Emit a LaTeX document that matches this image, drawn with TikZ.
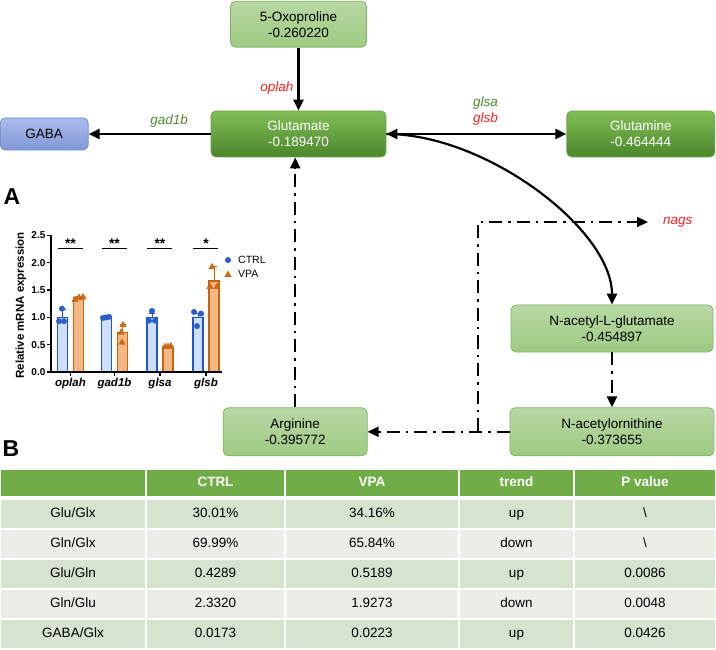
\documentclass[tikz,border=0pt]{standalone}
\usepackage{fontspec}
\setmainfont{Liberation Sans}
\usetikzlibrary{arrows.meta,positioning}

\definecolor{lgtop}{HTML}{B8D8A4}
\definecolor{lgbot}{HTML}{9ECB82}
\definecolor{lgedge}{HTML}{82B366}
\definecolor{dgtop}{HTML}{82BE56}
\definecolor{dgbot}{HTML}{4B872B}
\definecolor{dgedge}{HTML}{6FA24A}
\definecolor{bluetop}{HTML}{AABCEB}
\definecolor{bluebot}{HTML}{8298D8}
\definecolor{blueedge}{HTML}{6C8EBF}
\definecolor{genegreen}{HTML}{4F8A2E}
\definecolor{genered}{HTML}{FF2020}
\definecolor{headgreen}{HTML}{70AD47}
\definecolor{rowdark}{HTML}{D5E3CF}
\definecolor{rowlight}{HTML}{E9EFE6}
\definecolor{ctrledge}{HTML}{1F56D6}
\definecolor{ctrlfill}{HTML}{CDE0F7}
\definecolor{ctrldot}{HTML}{2B5EC9}
\definecolor{vpaedge}{HTML}{C9620B}
\definecolor{vpafill}{HTML}{F3B886}
\definecolor{vpadot}{HTML}{CD6A17}

\tikzset{tri/.pic={\fill (0,3.8pt) -- (-3.6pt,-2.6pt) -- (3.6pt,-2.6pt) -- cycle;}}

\begin{document}
\begin{tikzpicture}[
    x=1pt, y=-1pt,
    lightbox/.style  = {rectangle, rounded corners=5pt, draw=lgedge, line width=0.8pt,
                        top color=lgtop, bottom color=lgbot, inner sep=0pt,
                        font=\fontsize{13.5}{16}\selectfont, align=center},
    darkbox/.style   = {lightbox, draw=dgedge, top color=dgtop, bottom color=dgbot, text=white},
    bluebox/.style   = {lightbox, draw=blueedge, top color=bluetop, bottom color=bluebot},
    arrow/.style     = {-{Triangle[length=11pt,width=10pt]}, line width=2.2pt},
    dblarrow/.style  = {{Triangle[length=11pt,width=10pt]}-{Triangle[length=11pt,width=10pt]}, line width=2.2pt},
    dasharrow/.style = {arrow, dash pattern=on 13pt off 6pt on 2.5pt off 6pt},
    gene/.style      = {font=\fontsize{13.5}{16}\selectfont\itshape, inner sep=1pt},
    panel/.style     = {font=\bfseries\fontsize{23}{23}\selectfont, inner sep=0pt},
    tick/.style      = {font=\bfseries\fontsize{10}{10}\selectfont, inner sep=1pt},
    cell/.style      = {font=\fontsize{13.5}{16}\selectfont, text height=9.7pt, text depth=2.8pt},
    headcell/.style  = {cell, font=\bfseries\fontsize{13.5}{16}\selectfont, text=white}
]
\useasboundingbox (0,0) rectangle (716,650);

% Pathway
\node[darkbox, minimum width=175pt, minimum height=46pt] (glu) at (298.5,134) {Glutamate\\-0.189470};
\node[lightbox, minimum width=136pt, minimum height=46pt, above=63pt of glu] (oxo) {5-Oxoproline\\-0.260220};
\node[bluebox, minimum width=88pt, minimum height=32pt, left=122pt of glu] (gaba) {GABA};
\node[darkbox, minimum width=148pt, minimum height=46pt, right=180pt of glu] (gln) {Glutamine\\-0.464444};
\node[lightbox, minimum width=202pt, minimum height=47pt] (nag) at (612,328.5) {N-acetyl-L-glutamate\\-0.454897};
\node[lightbox, minimum width=204pt, minimum height=48pt, below=55pt of nag] (nao) {N-acetylornithine\\-0.373655};
\node[lightbox, minimum width=144pt, minimum height=48pt, left=142pt of nao] (arg) {Arginine\\-0.395772};
\node[gene, text=genered, anchor=west] (nags) at (662,222) {nags};
\coordinate (split) at (478,431);

\draw[arrow] (oxo) -- node[gene, text=genered, left=3pt, pos=0.64] (lbl-oplah) {oplah} (glu);
\draw[arrow] (glu) -- node[gene, text=genegreen, above=5pt, pos=0.34] (lbl-gad) {gad1b} (gaba);
\draw[dblarrow] (glu) -- node[gene, above=7pt, pos=0.55, align=center] (lbl-gls)
    {\textcolor{genegreen}{glsa}\\\textcolor{genered}{glsb}} (gln);
\draw[arrow] (glu.east) .. controls +(100,0) and +(0,-75) .. (nag.north);
\draw[dasharrow] (arg.north) -- (arg.north |- glu.south);
\draw[dasharrow] (nag) -- (nao);
\draw[dasharrow] (nao) -- (arg);
\draw[dasharrow, shorten >=14pt] (split) |- (nags.west);

% Panel A: qPCR bars
\node[panel] (pA) at (12,197) {A};
\begin{scope}[shift={(0,372)}, y=54.6pt]
  \foreach \gc/\gname/\vm/\ce/\ve/\stars in {70.5/oplah/1.35/1.14/1.39/{**},
      114.5/gad1b/0.72/1.01/0.87/{**}, 160/glsa/0.47/1.08/0.48/{**}, 206/glsb/1.67/1.08/1.93/{*}}{
    \draw[ctrledge, line width=0.7pt] (\gc-8,1) -- (\gc-8,\ce) (\gc-11,\ce) -- (\gc-5,\ce);
    \draw[vpaedge, line width=0.7pt] (\gc+8,\vm) -- (\gc+8,\ve) (\gc+5,\ve) -- (\gc+11,\ve);
    \draw[ctrledge, fill=ctrlfill, line width=1.6pt] (\gc-13,0) rectangle (\gc-3,1);
    \draw[vpaedge, fill=vpafill, line width=1.6pt] (\gc+3,0) rectangle (\gc+13,\vm);
    \draw[line width=1.5pt] (\gc,0) -- ++(0,-4pt);
    \node[font=\bfseries\itshape\fontsize{11.5}{12}\selectfont] (lab-\gname) at (\gc,-0.22) {\gname};
    \draw[line width=1.5pt] (\gc-13,2.26) -- (\gc+12,2.26);
    \node[font=\bfseries\fontsize{14}{14}\selectfont] (st-\gname) at (\gc,2.35) {\stars};
  }
  % CTRL points
  \foreach \x/\v in {62/1.16, 59/0.93, 64/0.93, 103/0.99, 106/1.0, 109/1.01,
      152/1.12, 149/0.94, 155/0.94, 194/1.1, 201/1.07, 197/0.84}
    \fill[ctrldot] (\x,\v) circle (3pt);
  % VPA points
  \foreach \x/\v in {75/1.33, 79/1.37, 83/1.38, 123/0.87, 121/0.73, 122/0.55,
      165/0.47, 168/0.47, 171/0.48, 212/1.93, 210/1.57, 217/1.57}
    \pic[vpadot] at (\x,\v) {tri};
  % axes
  \draw[line width=1.5pt] (51,2.5) -- (51,0) -- (222,0);
  \foreach \v in {0.0,0.5,1.0,1.5,2.0,2.5}
    \draw[line width=1.2pt] (51,\v) -- (47,\v) node[tick, left] (yt-\v) {\v};
  \node[rotate=90, font=\bfseries\fontsize{11.5}{12}\selectfont] (ylab) at (21,1.22) {Relative mRNA expression};
  % legend
  \fill[ctrldot] (228,2.05) circle (3pt);
  \pic[vpadot] at (228,1.79) {tri};
  \node[anchor=west, font=\fontsize{10.5}{12}\selectfont, inner sep=0pt] (legC) at (238,2.05) {CTRL};
  \node[anchor=west, font=\fontsize{10.5}{12}\selectfont, inner sep=0pt] (legV) at (238,1.79) {VPA};
\end{scope}

% Panel B: ratio table
\node[panel] (pB) at (11,449) {B};
\foreach \l/\r/\t [count=\j] in {1/145/{}, 147/284/CTRL, 286/458/VPA, 460/573/trend, 575/715/P value}{
  \fill[headgreen] (\l,470) rectangle (\r,496);
  \node[headcell] (h-\j) at ({(\l+\r)/2},483) {\t};
}
\foreach \a/\b/\c/\d/\e [count=\i] in {{Glu/Glx}/30.01\%/34.16\%/up/\textbackslash,
    {Gln/Glx}/69.99\%/65.84\%/down/\textbackslash, {Glu/Gln}/0.4289/0.5189/up/0.0086,
    {Gln/Glu}/2.3320/1.9273/down/0.0048, {GABA/Glx}/0.0173/0.0223/up/0.0426}{
  \pgfmathsetmacro\ytop{470+30*\i}
  \ifodd\i\relax \def\rowcol{rowdark}\else \def\rowcol{rowlight}\fi
  \foreach \l/\r in {1/145, 147/284, 286/458, 460/573, 575/715}
    \fill[fill=\rowcol] (\l,\ytop) rectangle (\r,\ytop+28);
  \node[cell] (c-\i-1) at (73,\ytop+14) {\a};
  \node[cell] (c-\i-2) at (215.5,\ytop+14) {\b};
  \node[cell] (c-\i-3) at (372,\ytop+14) {\c};
  \node[cell] (c-\i-4) at (516.5,\ytop+14) {\d};
  \node[cell] (c-\i-5) at (645,\ytop+14) {\e};
}
\end{tikzpicture}
\end{document}
